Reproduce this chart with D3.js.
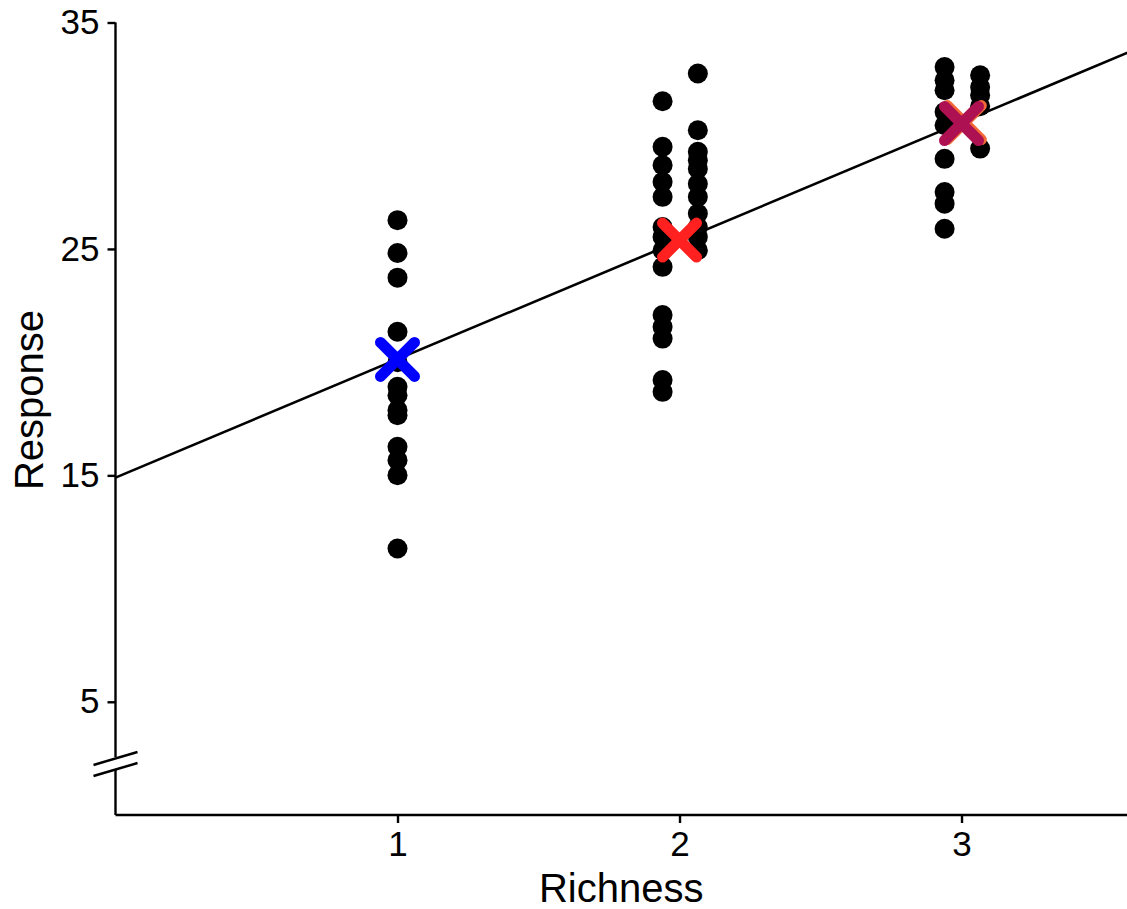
<!DOCTYPE html>
<html>
<head>
<meta charset="utf-8">
<script src="https://cdn.jsdelivr.net/npm/d3@7"></script>
<style>
  html, body { margin: 0; padding: 0; background: #fff; }
  svg { display: block; font-family: "Liberation Sans", Arial, sans-serif; }
</style>
</head>
<body>
<svg id="chart" width="1127" height="909"></svg>
<script>
// ---- data ----
const xTicks = [1, 2, 3];
const yTicks = [5, 15, 25, 35];

// group 1 (single column)
const g1x = 1.0;
const g1y = [26.27, 24.82, 23.73, 21.34, 20.0, 18.91, 18.54, 17.88, 17.66, 16.26, 15.67, 15.01, 11.77];
// group 2 (two jittered columns)
const g2xL = 1.94, g2xR = 2.065;
const g2yL = [31.52, 29.51, 28.70, 27.96, 27.30, 25.97, 25.53, 24.94, 24.21, 22.08, 21.56, 21.04, 19.21, 18.69];
const g2yR = [32.75, 30.24, 29.29, 28.92, 28.54, 27.88, 27.30, 26.56, 25.97, 25.53, 24.94];
// group 3 (two jittered columns)
const g3xL = 2.94, g3xR = 3.066;
const g3yL = [33.03, 32.45, 32.01, 31.05, 30.46, 28.98, 27.51, 27.0, 25.89];
const g3yR = [32.67, 32.15, 31.79, 31.3, 29.43];

// group mean markers (x, y, colour)
const meanX = [1.0, 2.0, 3.01, 3.0];
const meanY = [20.12, 25.39, 30.58, 30.54];
const meanColor = ["#0000FF", "#FF2020", "#F46A36", "#AE1152"];

// fitted regression line
const fitIntercept = 14.9;
const fitSlope = 5.23;

// ---- chart ----
const svg = d3.select("#chart");
const x = d3.scaleLinear().domain([0, 3.59]).range([115.5, 1127.9]);
const y = d3.scaleLinear().domain([0, 35]).range([815, 22.5]);

const points = [];
g1y.forEach(v => points.push([g1x, v]));
g2yL.forEach(v => points.push([g2xL, v]));
g2yR.forEach(v => points.push([g2xR, v]));
g3yL.forEach(v => points.push([g3xL, v]));
g3yR.forEach(v => points.push([g3xR, v]));

// regression line
svg.append("line")
  .attr("x1", x(0)).attr("y1", y(fitIntercept))
  .attr("x2", x(3.59)).attr("y2", y(fitIntercept + fitSlope * 3.59))
  .attr("stroke", "#000").attr("stroke-width", 2.6);

// points
svg.append("g").selectAll("circle").data(points).join("circle")
  .attr("cx", d => x(d[0])).attr("cy", d => y(d[1]))
  .attr("r", 10).attr("fill", "#000");

// mean X markers
const arm = 17;
const mg = svg.append("g");
meanX.forEach((mx, i) => {
  const cx = x(mx), cy = y(meanY[i]);
  const g = mg.append("g").attr("stroke", meanColor[i]).attr("stroke-width", 11).attr("stroke-linecap", "round");
  g.append("line").attr("x1", cx - arm).attr("y1", cy - arm).attr("x2", cx + arm).attr("y2", cy + arm);
  g.append("line").attr("x1", cx - arm).attr("y1", cy + arm).attr("x2", cx + arm).attr("y2", cy - arm);
});

const fontFam = "Liberation Sans, Arial, sans-serif";

// x axis
const xAxis = svg.append("g").attr("transform", `translate(0,${y(0)})`)
  .call(d3.axisBottom(x).tickValues(xTicks).tickSize(8).tickPadding(8).tickFormat(d3.format("d")));
xAxis.select(".domain").attr("d", `M${x(0)},0H1127`).attr("stroke-width", 2.4);
xAxis.selectAll(".tick line").attr("stroke-width", 2.4);
xAxis.selectAll("text").attr("font-size", 35).attr("fill", "#000").attr("font-family", fontFam);

// y axis
const yAxis = svg.append("g").attr("transform", `translate(${x(0)},0)`)
  .call(d3.axisLeft(y).tickValues(yTicks).tickSize(8).tickPadding(8).tickFormat(d3.format("d")));
yAxis.select(".domain").attr("d", `M0,${y(35)}V${y(0)}`).attr("stroke-width", 2.4);
yAxis.selectAll(".tick line").attr("stroke-width", 2.4);
yAxis.selectAll("text").attr("font-size", 35).attr("fill", "#000").attr("font-family", fontFam);

// axis break marks
const bx = x(0);
svg.append("rect").attr("x", bx - 3).attr("y", 757).attr("width", 6).attr("height", 12).attr("fill", "#fff");
[0, 11].forEach(off => {
  svg.append("line")
    .attr("x1", bx - 22).attr("y1", 765 + off)
    .attr("x2", bx + 22).attr("y2", 752 + off)
    .attr("stroke", "#000").attr("stroke-width", 2.4);
});

// axis titles
svg.append("text").attr("x", (x(0) + 1127) / 2).attr("y", 902).attr("text-anchor", "middle")
  .attr("font-size", 40).attr("fill", "#000").text("Richness");
svg.append("text").attr("transform", `translate(43,400) rotate(-90)`)
  .attr("text-anchor", "middle").attr("font-size", 40).attr("fill", "#000").text("Response");
</script>
</body>
</html>
